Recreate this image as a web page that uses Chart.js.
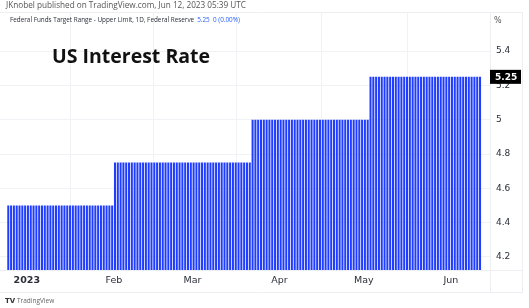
<!DOCTYPE html>
<html>
<head>
<meta charset="utf-8">
<script src="https://cdn.jsdelivr.net/npm/chart.js"></script>
<style>
  html, body { margin: 0; padding: 0; background: #fff; }
  #wrap { position: relative; width: 529px; height: 308px; }
</style>
</head>
<body>
<div id="wrap"><canvas id="myChart" width="529" height="308"></canvas></div>
<script>
// rate levels (upper limit, %) and the day each level starts
const levelStarts = ['2022-12-25', '2023-02-01', '2023-03-22', '2023-05-03'];
const levelRates = [4.5, 4.75, 5.0, 5.25];
const lastDay = '2023-06-11';

// x axis labels (day index from Jan 1 2023)
const monthTickDays = [0, 31, 59, 90, 120, 151];
const monthTickLabels = ['2023', 'Feb', 'Mar', 'Apr', 'May', 'Jun'];
const priceTicks = [4.2, 4.4, 4.6, 4.8, 5, 5.2, 5.4];

const DAY = 86400000;
const origin = Date.UTC(2023, 0, 1);
const dayIndex = s => Math.round((Date.parse(s + 'T00:00:00Z') - origin) / DAY);

// daily points of the step series
const points = [];
for (let d = dayIndex(levelStarts[0]); d <= dayIndex(lastDay); d++) {
  let r = levelRates[0];
  levelStarts.forEach((s, i) => { if (d >= dayIndex(s)) r = levelRates[i]; });
  points.push({ x: d, y: r });
}
const lastRate = levelRates[levelRates.length - 1];

const gridColor = '#f0f2f6';
const textColor = '#2a2e39';
const tickShift = -0.4; // labels sit at the left edge of the day's bar

const overlay = {
  id: 'overlay',
  afterDraw(chart) {
    const c = chart.ctx, a = chart.chartArea, ys = chart.scales.y;
    c.save();
    // frame lines
    c.strokeStyle = '#eceef2';
    c.lineWidth = 1;
    c.beginPath();
    c.moveTo(0, a.top + 0.5); c.lineTo(523, a.top + 0.5);
    c.moveTo(a.right + 0.5, a.top); c.lineTo(a.right + 0.5, 292);
    c.moveTo(0, a.bottom + 0.5); c.lineTo(523, a.bottom + 0.5);
    c.moveTo(0, 292.5); c.lineTo(523, 292.5);
    c.moveTo(522.5, a.top); c.lineTo(522.5, 292);
    c.stroke();

    // header texts
    c.textBaseline = 'middle';
    c.textAlign = 'left';
    c.fillStyle = '#555';
    c.font = '8.2px "Open Sans"';
    c.fillText('JKnobel published on TradingView.com, Jun 12, 2023 05:39 UTC', 6, 6);
    c.fillStyle = textColor;
    c.font = '6.35px "Open Sans"';
    const hdr = 'Federal Funds Target Range - Upper Limit, 1D, Federal Reserve';
    c.fillText(hdr, 10, 20);
    const w = c.measureText(hdr).width;
    c.fillStyle = '#2962ff';
    c.fillText(lastRate.toFixed(2) + '  0 (0.00%)', 10 + w + 3, 20);

    c.fillStyle = '#555';
    c.font = '8px "DejaVu Sans"';
    c.fillText('%', 494, 21);

    // title
    c.fillStyle = '#111';
    c.font = 'bold 19.5px "Open Sans"';
    c.fillText('US Interest Rate', 52, 57);

    // last value label
    const py = ys.getPixelForValue(lastRate);
    c.fillStyle = '#000';
    c.fillRect(490, py - 7, 31, 14);
    c.fillStyle = '#fff';
    c.font = 'bold 9px "DejaVu Sans"';
    c.fillText(lastRate.toFixed(2), 495, py + 0.5);

    // footer logo
    c.fillStyle = '#333';
    c.font = 'bold 7px "DejaVu Sans"';
    c.fillText('TV', 5, 301);
    c.fillStyle = '#666';
    c.font = '6.5px "Open Sans"';
    c.fillText('TradingView', 17, 301);
    c.restore();
  }
};

new Chart(document.getElementById('myChart').getContext('2d'), {
  type: 'bar',
  data: {
    datasets: [{
      data: points,
      backgroundColor: '#1f3cff',
      borderWidth: 0,
      barPercentage: 0.72,
      categoryPercentage: 1.0
    }]
  },
  options: {
    responsive: false,
    animation: false,
    events: [],
    layout: { padding: { left: 0, right: 6, top: 12, bottom: 16 } },
    plugins: { legend: { display: false }, tooltip: { enabled: false } },
    scales: {
      x: {
        type: 'linear',
        offset: false,
        min: -9.95,
        max: 164.55,
        afterBuildTicks: s => { s.ticks = monthTickDays.map(v => ({ value: v + tickShift })); },
        afterFit: s => { s.height = 22; },
        grid: { color: gridColor, drawTicks: false },
        border: { display: false },
        ticks: {
          padding: 5,
          color: textColor,
          maxRotation: 0,
          autoSkip: false,
          font: c => ({ family: 'DejaVu Sans', size: 9.5, weight: c.index === 0 ? 'bold' : 'normal' }),
          callback: (v, i) => monthTickLabels[i]
        }
      },
      y: {
        position: 'right',
        min: 4.124,
        max: 5.628,
        afterBuildTicks: s => { s.ticks = priceTicks.map(v => ({ value: v })); },
        afterFit: s => { s.width = 33; },
        grid: { color: gridColor, drawTicks: false },
        border: { display: false },
        ticks: {
          padding: 6,
          color: textColor,
          font: { family: 'DejaVu Sans', size: 9 },
          callback: v => String(v)
        }
      }
    }
  },
  plugins: [overlay]
});
</script>
</body>
</html>
